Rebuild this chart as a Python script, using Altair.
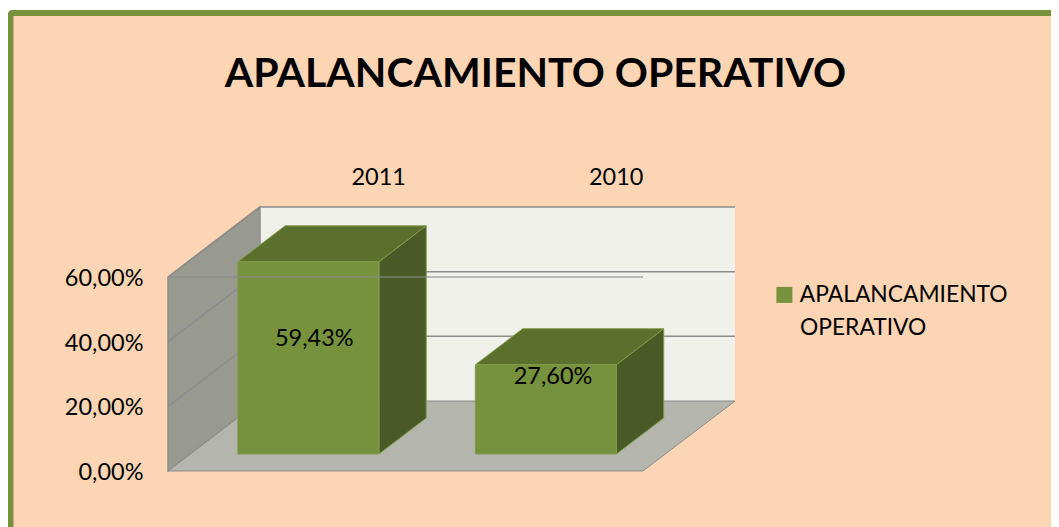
import altair as alt
import pandas as pd

TITLE = "APALANCAMIENTO OPERATIVO"
SERIES = "APALANCAMIENTO OPERATIVO"
LEGEND_LINES = ["APALANCAMIENTO", "OPERATIVO"]
CATEGORIES = ["2011", "2010"]
VALUES = [59.43, 27.60]
TICKS = [0, 20, 40, 60]

FONT = "Lato"
GREEN = "#76923C"
TOP = "#5C702E"
SIDE = "#4A5A26"
EDGE = "#7F9B48"
WALL_BACK = "#EFF1EA"
WALL_LEFT = "#989A90"
FLOOR = "#B4B6AE"
GRID = "#8C8C8C"
PEACH = "#FCD5B4"

W, H = 883, 463
PX_PER_CAT = 237.5
PX_PER_PCT = 3.2333
DX = 92 / PX_PER_CAT   # depth shift, category units
DY = 70 / PX_PER_PCT   # depth shift, percent units
D0, D1 = 0.243, 0.757  # bar depth span
BAR_OFF, BAR_W = 0.2, 0.594
TOPV = TICKS[-1]
NC = len(CATEGORIES)

xs = alt.Scale(domain=[0, W / PX_PER_CAT], nice=False, zero=False)
ys = alt.Scale(domain=[0, H / PX_PER_PCT], nice=False, zero=False)
y_axis = alt.Axis(
    values=TICKS, title=None, grid=False, domain=False, ticks=False,
    labelPadding=25, labelFont=FONT, labelFontSize=23.5, labelColor="#000000",
    labelOffset=1.5,
    labelExpr="replace(format(datum.value,'.2f'),'.',',')+'%'", zindex=1)
X = lambda f="x": alt.X(f"{f}:Q", scale=xs, axis=None)
Y = lambda f="y": alt.Y(f"{f}:Q", scale=ys, axis=y_axis)


def vface(rows, **mk):
    return alt.Chart(pd.DataFrame(rows)).mark_area(**mk).encode(
        x=X(), y=Y(), y2=alt.Y2("y2:Q"), detail="id:N")


def hface(rows, **mk):
    return alt.Chart(pd.DataFrame(rows)).mark_area(orient="horizontal", **mk).encode(
        y=Y(), x=X(), x2=alt.X2("x2:Q"), detail="id:N")


def lines(rows, **mk):
    return alt.Chart(pd.DataFrame(rows)).mark_line(**mk).encode(
        x=X(), y=Y(), detail="id:N")


panel = alt.Chart(pd.DataFrame({"a": [0]})).mark_rect(
    fill=PEACH, stroke=GREEN, strokeWidth=6, cornerRadius=2
).encode(x=alt.value(-157.5), x2=alt.value(920), y=alt.value(5), y2=alt.value(540))

back = vface([{"id": 0, "x": DX, "y": DY, "y2": TOPV + DY},
              {"id": 0, "x": NC + DX, "y": DY, "y2": TOPV + DY}],
             fill=WALL_BACK)
left = vface([{"id": 0, "x": 0, "y": 0, "y2": TOPV},
              {"id": 0, "x": DX, "y": DY, "y2": TOPV + DY}],
             fill=WALL_LEFT, stroke=GRID, strokeWidth=1.5)
floor = hface([{"id": 0, "y": 0, "x": 0, "x2": NC},
               {"id": 0, "y": DY, "x": DX, "x2": NC + DX}],
              fill=FLOOR, stroke=GRID, strokeWidth=1)

grid_rows = []
for t in TICKS[1:]:
    grid_rows += [{"id": f"s{t}", "x": 0, "y": t}, {"id": f"s{t}", "x": DX, "y": t + DY},
                  {"id": f"s{t}", "x": NC + DX, "y": t + DY}]
grid = lines(grid_rows, stroke=GRID, strokeWidth=1.5)

front_rows, side_rows, top_rows, label_rows = [], [], [], []
for i, v in enumerate(VALUES):
    c0, c1 = i + BAR_OFF, i + BAR_OFF + BAR_W
    for c in (c0, c1):
        front_rows.append({"id": i, "series": SERIES, "x": c + DX * D0,
                           "y": DY * D0, "y2": v + DY * D0})
    for d in (D0, D1):
        side_rows.append({"id": i, "x": c1 + DX * d, "y": DY * d, "y2": v + DY * d})
        top_rows.append({"id": i, "y": v + DY * d, "x": c0 + DX * d, "x2": c1 + DX * d})
    label_rows.append({"x": (c0 + c1) / 2 + DX * D0 + 0.025 + 0.005 * i,
                       "y": 0.369 * v + 18.9,
                       "t": f"{v:.2f}".replace(".", ",") + "%"})

tops = hface(top_rows, fill=TOP, stroke=EDGE, strokeWidth=1)
sides = vface(side_rows, fill=SIDE, stroke=EDGE, strokeWidth=1)
fronts = alt.Chart(pd.DataFrame(front_rows)).mark_area(stroke=EDGE, strokeWidth=1).encode(
    x=X(), y=Y(), y2=alt.Y2("y2:Q"), detail="id:N",
    color=alt.Color("series:N", scale=alt.Scale(domain=[SERIES], range=[GREEN]),
                    legend=alt.Legend(
                        orient="none", legendX=605, legendY=275.5, title=None,
                        symbolType="square", symbolSize=256, symbolStrokeWidth=0,
                        labelFont=FONT, labelFontSize=22.8, labelColor="#000000",
                        labelOffset=4, labelLimit=400,
                        labelExpr=f"'{LEGEND_LINES[0]}'")),
)

front_line = lines([{"id": 0, "x": 0, "y": TOPV}, {"id": 0, "x": NC, "y": TOPV}],
                   stroke=GRID, strokeWidth=1.5, opacity=0.7)

labels = alt.Chart(pd.DataFrame(label_rows)).mark_text(
    font=FONT, fontSize=23.5, color="#000000", baseline="middle"
).encode(x=X(), y=Y(), text="t:N")

cat_rows = [{"x": i + 0.5 + DX, "y": TOPV + DY + 29.5 / PX_PER_PCT, "t": c}
            for i, c in enumerate(CATEGORIES)]
cats = alt.Chart(pd.DataFrame(cat_rows)).mark_text(
    font=FONT, fontSize=23.5, color="#000000", baseline="middle"
).encode(x=X(), y=Y(), text="t:N")

legend2 = alt.Chart(pd.DataFrame({"t": [LEGEND_LINES[1]]})).mark_text(
    font=FONT, fontSize=22.8, color="#000000", baseline="middle", align="left"
).encode(x=alt.value(632), y=alt.value(320), text="t:N")

chart = alt.layer(
    panel, back, left, floor, grid, tops, sides, fronts, front_line, labels, cats, legend2
).properties(
    width=W, height=H,
    padding={"left": 160, "top": 0, "right": 0, "bottom": 56},
    autosize=alt.AutoSizeParams(type="none"),
    background="transparent",
    title=alt.TitleParams(TITLE, font=FONT, fontSize=41, fontWeight="bold", color="#000000",
                          anchor="middle", frame="group", dx=-74, dy=124, baseline="alphabetic"),
).configure_view(stroke=None)

chart.save("out.html", embed_options={"renderer": "svg", "actions": False})
